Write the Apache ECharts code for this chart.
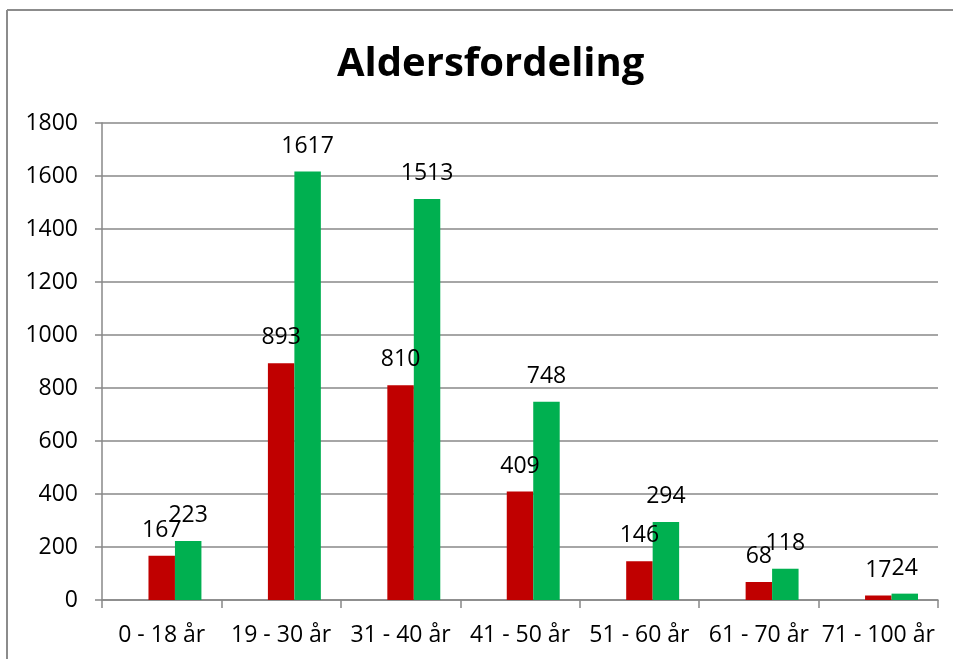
<!DOCTYPE html>
<html>
<head>
<meta charset="utf-8">
<script src="https://cdn.jsdelivr.net/npm/echarts@6/dist/echarts.min.js"></script>
<style>
  html, body { margin: 0; padding: 0; background: #ffffff; }
  #chart { width: 953px; height: 659px; }
</style>
</head>
<body>
<div id="chart"></div>
<script>
// aldersgrupper
var categories = ['0 - 18 år', '19 - 30 år', '31 - 40 år', '41 - 50 år', '51 - 60 år', '61 - 70 år', '71 - 100 år']
// tom serie (holder plass til venstre, som i originalen)
var emptySeries = ['-', '-', '-', '-', '-', '-', '-']
var redValues = [167, 893, 810, 409, 146, 68, 17]
var greenValues = [223, 1617, 1513, 748, 294, 118, 24]
var yTicks = { min: 0, max: 1800, interval: 200 }

var FONT = '"Open Sans", "Liberation Sans", sans-serif'
var AXIS_GRAY = '#888888'

var myChart = echarts.init(document.getElementById('chart'))

function barLabel() {
  return {
    show: true,
    position: 'top',
    distance: 14,
    color: '#000000',
    fontFamily: FONT,
    fontSize: 23
  }
}

var option = {
  animation: false,
  backgroundColor: '#ffffff',
  title: {
    text: 'Aldersfordeling',
    left: 332,
    top: 40,
    textStyle: {
      fontFamily: FONT,
      fontWeight: 'bold',
      fontSize: 40,
      color: '#000000'
    }
  },
  grid: {
    left: 102,
    right: 15,
    top: 123,
    bottom: 59
  },
  xAxis: {
    type: 'category',
    data: categories,
    axisLine: { lineStyle: { color: AXIS_GRAY, width: 1.5 } },
    axisTick: { show: true, length: 8, lineStyle: { color: AXIS_GRAY, width: 1.5 } },
    axisLabel: {
      margin: 24,
      color: '#000000',
      fontFamily: FONT,
      fontSize: 23,
      interval: 0
    }
  },
  yAxis: {
    type: 'value',
    min: yTicks.min,
    max: yTicks.max,
    interval: yTicks.interval,
    axisLine: { show: true, lineStyle: { color: AXIS_GRAY, width: 1.5 } },
    axisTick: { show: true, length: 7, lineStyle: { color: AXIS_GRAY, width: 1.5 } },
    splitLine: { lineStyle: { color: AXIS_GRAY, width: 1.5 } },
    axisLabel: {
      margin: 24,
      color: '#000000',
      fontFamily: FONT,
      fontSize: 23,
      formatter: function (v) { return String(v) }
    }
  },
  series: [
    {
      name: 'tom',
      type: 'bar',
      data: emptySeries,
      barGap: 0,
      barCategoryGap: '33.5%'
    },
    {
      name: 'rød',
      type: 'bar',
      data: redValues,
      barGap: 0,
      barCategoryGap: '33.5%',
      itemStyle: { color: '#C00000' },
      label: barLabel()
    },
    {
      name: 'grønn',
      type: 'bar',
      data: greenValues,
      barGap: 0,
      barCategoryGap: '33.5%',
      itemStyle: { color: '#00B050' },
      label: barLabel()
    }
  ],
  // ytre ramme
  graphic: [
    {
      type: 'line',
      shape: { x1: 7, y1: 10, x2: 953, y2: 10 },
      style: { stroke: '#8c8c8c', lineWidth: 2 },
      silent: true
    },
    {
      type: 'line',
      shape: { x1: 7, y1: 10, x2: 7, y2: 659 },
      style: { stroke: '#8c8c8c', lineWidth: 2 },
      silent: true
    }
  ]
}

myChart.setOption(option)
</script>
</body>
</html>
